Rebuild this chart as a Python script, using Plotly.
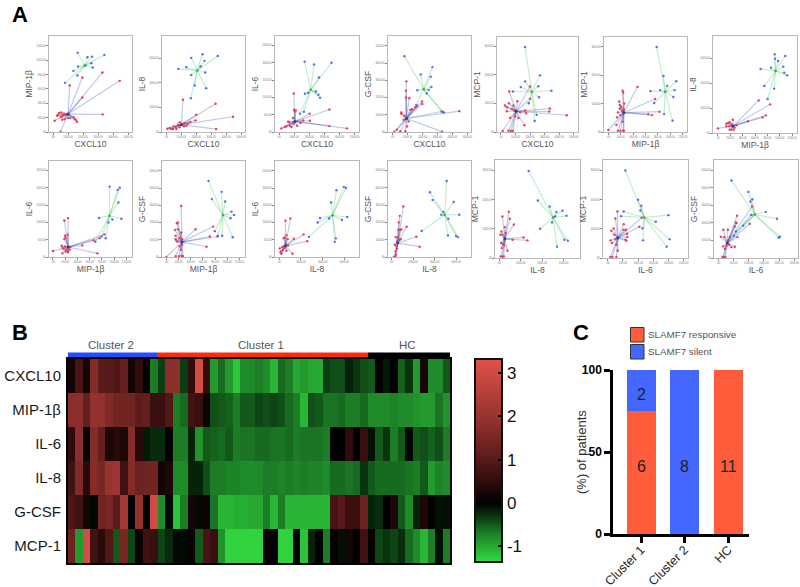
import plotly.graph_objects as go

W, H = 800, 587

# ---------- Panel A values (blue = SLAMF7 silent group points, red = others, C = group centre)
P01_BX = [1644,2289,2600,3422,2556,2156,2644,1667,1356,1622,800]
P01_BY = [1106,1042,1051,1074,958,926,898,912,852,787,685]
P01_BC = [2110,926]
P01_RX = [1956,3289,4444,1111,1956,3311,511,111,265,400,555,665,775,890,510,620,775,1000,1155,1375,1445,1600,1510,335,575]
P01_RY = [759,829,713,648,481,245,5,157,227,264,273,241,250,241,208,171,180,194,194,208,180,143,171,236,218]
P01_RC = [1000,250]

P02_BX = [800,1665,2420,3440,2555,2290,1330,2600,1665,1890,2665,1640]
P02_BY = [5130,6020,6320,6180,5780,5320,5265,4830,4640,3780,3560,2750]
P02_BC = [2065,4995]
P02_RX = [1110,3290,4460,3330,2000,1950,1600,70,222,444,622,777,888,1066,1221,1332,666,488,333,888,1177,1443]
P02_RY = [2620,2300,1240,240,1400,945,810,270,324,243,405,594,783,648,729,513,243,459,243,378,459,675]
P02_RC = [1000,594]

P03_BX = [1690,2310,3460,2640,1710,1930,2440,2600,2710,1640,1380]
P03_BY = [2035,1950,2000,1575,1105,1130,1170,1075,990,585,530]
P03_BC = [2090,1220]
P03_RX = [975,3330,4480,3330,2020,2040,1600,1420,155,1000,1045,930,600,710,820,380,1110,665,975,1200,490]
P03_RY = [1115,650,105,170,530,325,335,260,105,645,595,405,300,180,145,145,625,280,240,180,165]
P03_RC = [1045,305]

P04_BX = [800,2665,1890,2555,2600,2420,1665,2290,3310,3440,1600]
P04_BY = [4400,3765,3340,3205,2610,2440,2420,2230,1170,1130,1575]
P04_BC = [2085,2475]
P04_RX = [4460,3310,3285,930,910,910,1130,1975,2000,1640,1530,1310,1200,600,600,800,975,1090,310,130,530,865,975,755]
P04_RY = [1210,20,1190,2940,2400,2000,1960,1770,1630,1515,1440,1325,1285,1130,1055,940,770,615,135,20,40,40,325,710]
P04_RC = [930,785]

P05_BX = [1660,2680,1660,1360,2565,3470,2610,820,1905,2450,2315]
P05_BY = [2970,1980,1770,1570,1600,1440,1215,1415,1005,600,385]
P05_BC = [2110,1405]
P05_RX = [2000,2000,570,3360,3315,4520,1610,1135,860,270,410,545,635,975,1660,1725,1315,115,520,680,815,1200,750,910,410]
P05_RY = [1590,1160,1415,820,715,585,235,1075,925,925,725,1005,490,540,750,655,690,35,45,35,35,490,805,750,865]
P05_RC = [1045,725]

P06_BX = [780,890,1097,950,680,835,1070,740,1050,900,1037]
P06_BY = [2995,1975,1790,1625,1440,1475,1475,1020,1230,630,400]
P06_BC = [918,1415]
P06_RX = [470,230,240,755,175,255,825,645,705,0,185,155,195,140,230,130,155,195,240,250,185,210,250,215]
P06_RY = [1590,1450,1390,1160,1075,1005,715,630,595,70,830,690,595,515,365,245,45,45,45,45,950,890,795,750]
P06_RC = [250,680]

P07_BX = [920,1090,925,975,690,860,1057,1075,1120,750,910,805]
P07_BY = [6325,6190,5975,5790,5145,5250,5335,4850,4635,3780,3565,2735]
P07_BC = [932,4985]
P07_RX = [660,845,775,725,485,0,240,190,165,135,190,220,255,270,300,180,220,235,135]
P07_RY = [2625,2305,1420,1260,940,375,1070,860,805,535,270,270,270,430,615,535,700,535,750]
P07_RC = [245,565]

P08_BX = [925,1090,1057,1068,752,970,1117,905,796,692,861]
P08_BY = [2035,2000,1940,1575,1130,1085,1105,1000,595,440,540]
P08_BC = [921,1190]
P08_RX = [245,185,196,240,207,185,840,763,665,480,725,0,142,153,175,153,218,245,272,283,207,240,196]
P08_RY = [1125,1055,615,645,555,520,655,545,480,335,105,175,325,270,230,105,210,135,210,290,155,175,305]
P08_RC = [250,290]

P09_BX = [692,905,965,747,1068,1112,1052,796,916,845,1090]
P09_BY = [4415,3780,3225,3360,2630,2440,2245,1500,1230,1230,1150]
P09_BC = [926,2440]
P09_RX = [245,190,175,142,190,480,768,714,840,660,0,245,153,153,164,185,218,262,218,240,153,207,250,272,262]
P09_RY = [2955,2000,1960,1575,1610,1610,1765,1190,1190,595,0,1420,1230,1035,960,885,1095,710,615,420,40,40,75,40,1035]
P09_RC = [256,865]

P10_BX = [5945,6130,5265,4775,3760,3540,4590,6250,5760,5205,5115,2740]
P10_BY = [2035,2000,1940,1585,1130,1000,1115,1160,1075,540,440,585]
P10_BC = [4900,1210]
P10_RX = [1045,585,2250,2590,1355,680,525,430,800,1230,60,215,370,525,830,310,430,215,680,125,615]
P10_RY = [1115,1055,655,460,530,635,565,545,520,95,250,165,210,260,335,290,305,95,180,135,375]
P10_RC = [585,325]

P11_BX = [5110,3570,3820,5760,4805,4620,5265,6280,5235,5975,6160,2800]
P11_BY = [4395,3745,3300,3185,2610,2440,2210,2440,1250,1210,1150,1500]
P11_BC = [4930,2440]
P11_RX = [1110,770,680,1415,925,800,645,585,2310,2620,400,770,860,310,460,525,400,430,245,370,525]
P11_RY = [2920,2380,2000,1745,1595,1575,1575,1150,1170,595,1150,1000,1035,710,615,480,325,135,0,40,900]
P11_RC = [585,805]

P12_BX = [2750,3595,4690,5310,5875,6250,5190,4905,3810,6060,6375,5375]
P12_BY = [2985,1970,1765,1575,1620,1450,1425,1220,1005,625,595,390]
P12_BC = [5000,1390]
P12_RX = [905,310,1000,1375,530,220,125,2280,2625,1250,780,190,375,560,625,310,470,155,310,440,250]
P12_RY = [1585,1425,1345,1150,1060,910,800,705,605,625,250,515,480,685,855,800,435,55,45,55,340]
P12_RC = [530,660]

P13_BX = [580,1000,1105,1075,525,440,1995,1580,1140,2040,1160,1940]
P13_BY = [3000,1995,1790,1630,1595,1435,1470,1245,1015,640,605,390]
P13_BC = [1205,1390]
P13_RX = [320,250,1120,1040,525,600,525,195,120,635,645,580,615,90,140,250,285,330,90,155,285,220]
P13_RY = [1595,1355,1380,1070,1160,970,970,1015,935,830,720,625,590,605,515,650,455,250,35,35,35,800]
P13_RC = [330,685]

P14_BX = [435,990,1120,1055,1560,1090,1930,2025,1985,580,510,820]
P14_BY = [4405,3760,3345,3215,2625,2455,2230,1210,1155,1510,1265,1835]
P14_BC = [1200,2475]
P14_RX = [620,580,600,545,1035,1110,1080,165,315,85,195,630,380,165,270,545,435,220,140,185,230,325,360]
P14_RY = [2400,2020,1985,1795,1945,2930,2455,1605,1605,1210,1190,1190,1190,660,700,640,605,510,55,55,55,1000,755]
P14_RC = [295,850]

PANEL_X_NAMES = ["CXCL10","CXCL10","CXCL10","CXCL10","CXCL10","MIP-1β","MIP-1β",
                 "MIP-1β","MIP-1β","IL-8","IL-8","IL-8","IL-6","IL-6"]
PANEL_Y_NAMES = ["MIP-1β","IL-8","IL-6","G-CSF","MCP-1","MCP-1","IL-8",
                 "IL-6","G-CSF","IL-6","G-CSF","MCP-1","MCP-1","G-CSF"]
AXIS_TICKS = {"CXCL10":[0,1000,2000,3000,4000,5000], "MIP-1β":[0,200,400,600,800,1000,1200],
              "IL-8":[0,2000,4000,6000], "IL-6":[0,500,1000,1500,2000,2500],
              "G-CSF":[0,1000,2000,3000,4000,5000], "MCP-1":[0,1000,2000,3000]}
# Panel frame: left, right, top, bottom in pixels; axis limits
PANEL_BOX = [(49,132,36,132),(162,245,36,132),(275,359,36,132),(388,471,36,132),(497,578,37,132),(604,687,37,132),(713,797,36,133),
             (49,132,161,257),(162,245,161,257),(275,359,161,257),(388,471,161,257),(495,580,160,258),(603,688,160,258),(714,798,160,258)]
PANEL_XR = [(-266,5260),(-290,5260),(-266,5280),(-290,5240),(-270,5290),(-70,1270),(-80,1280),
            (-65,1290),(-70,1290),(-370,7330),(-310,7360),(-375,7500),(-155,2640),(-140,2620)]
PANEL_YMAX = [1338,7800,2775,5570,3320,3345,7800,2775,5570,2785,5550,3360,3360,5575]

# ---------- Panel B values
HEAT_ROWS = ["CXCL10","MIP-1β","IL-6","IL-8","G-CSF","MCP-1"]
H_CXCL10 = [.2,.8,.2,1.7,1.0,1.0,.9,1.2,.2,.5,0,-.7,-.35,1.8,1.8,-.35,.5,3.0,.5,-.9,-.6,-.9,-1.2,-.8,-.8,-.7,-.8,-1.1,-.6,-.7,-1.0,-.9,-1.0,-1.0,-.35,-.45,-.45,-.2,-.3,-.45,-.5,.05,-.15,0,-.55,-.3,-.9,.25,-.8,-.8,-.5]
H_MIP = [1.8,1.8,1.2,1.9,1.9,1.6,1.4,1.4,1.4,1.1,1.2,.6,.6,.9,-.7,-.6,.7,.6,.15,-.45,-.5,-.55,-.7,-.5,-.5,-.4,-.45,-.4,-.45,-.6,-.7,-1.1,-.45,-.5,-.65,-.65,-.6,-.7,-.7,-.6,-.8,-.8,-.8,-.75,-.8,-.8,-.85,-.9,-.9,-.65,-.85]
H_IL6 = [.5,1.8,-.05,1.7,1.2,.3,.4,.3,1.7,.4,-.15,-.25,-.25,0,-.7,-.7,-.2,-.85,-.5,-.55,-.6,-.5,-.7,-.65,-.65,-.6,-.6,-.65,-.65,-.6,-.7,-.65,-.65,-.65,-.7,0,0,.5,0,.6,-.1,-.5,-.3,-.7,-.5,-.05,-.5,-.45,-.55,-.45,-.7]
H_IL8 = [.7,1.6,.4,1.7,1.5,2.0,2.1,.7,1.7,1.3,1.4,1.4,.2,.3,-.8,-.8,-.2,-.2,-.45,-.7,-.7,-.75,-.75,-.8,-.8,-.8,-.7,-.7,-.75,-.7,-.75,-.7,-.75,-.75,-.8,-.6,-.6,-.65,-.6,-.3,-.5,-.6,-.6,-.6,-.6,-.65,-.7,-.5,-.9,-.75,-.8]
H_GCSF = [.9,.7,.2,-.05,1.4,1.5,1.0,2.2,0,1.9,0,3.0,-.8,-.05,-1.2,-.7,.2,-.05,.15,-.65,-1.1,-1.1,-1.05,-1.05,-1.0,-1.0,-.7,-1.1,-.7,-1.1,-1.1,-1.1,-1.1,-1.1,-1.1,.8,1.0,.6,.6,1.3,-.2,-.25,0,.3,-.5,-.8,-.2,.3,.05,-.1,-.1]
H_MCP = [1.3,-.9,3.1,.7,.4,.9,-.5,1.5,-.4,.1,.7,.6,-.4,-.25,-.05,-.05,.1,-.5,.8,.6,-.85,-1.3,-1.3,-1.3,-1.3,-1.3,.1,.05,-1.3,-1.3,0,-1.2,-.2,0,-.7,.05,-.1,.2,0,.7,.05,-.4,-.3,-.4,-.25,-.6,-.8,-1.1,-.7,-.1,-.7]
CLUSTER_NAMES = ["Cluster 2","Cluster 1","HC"]
CLUSTER_SIZES = [12,28,11]
CLUSTER_COLORS = ["#1f4dff","#ff2a0a","#000000"]
COLOR_MIN, COLOR_MAX = -1.37, 3.33
CBAR_TICKS = [-1,0,1,2,3]
CBAR_LABELS = ["-1","0","1","2","3"]

# ---------- Panel C values
BAR_CATS = ["Cluster 1","Cluster 2","HC"]
RESPONSIVE = [75,0,100]
SILENT = [25,100,0]
COUNT_LABELS = ["6","8","11","2"]
COUNT_CATS = ["Cluster 1","Cluster 2","HC","Cluster 1"]
COUNT_Y = [41,41,41,85]
RESP_COLOR, SILENT_COLOR = "#ff5c3c", "#4467ff"

def fx(px): return px / W
def fy(px): return 1 - px / H

fig = go.Figure()
layout = dict(width=W, height=H, margin=dict(l=0,r=0,t=0,b=0,autoexpand=False), paper_bgcolor="white", plot_bgcolor="white",
              showlegend=False, font=dict(family="Liberation Sans, Arial, sans-serif"),
              bargap=1/3, barmode="stack")
shapes, annots = [], []

def tick_text(v):
    return ".00" if v == 0 else f"{v}.00"

def star(xs, ys, c):
    ox, oy = [], []
    for x, y in zip(xs, ys):
        ox += [c[0], x, None]; oy += [c[1], y, None]
    return ox, oy

for i in range(14):
    n = i + 1
    g = globals()
    bx, by, bc = g[f"P{n:02d}_BX"], g[f"P{n:02d}_BY"], g[f"P{n:02d}_BC"]
    rx, ry, rc = g[f"P{n:02d}_RX"], g[f"P{n:02d}_RY"], g[f"P{n:02d}_RC"]
    xa, ya = f"x{n}", f"y{n}"
    lx, ly = star(rx, ry, rc)
    fig.add_trace(go.Scatter(x=lx, y=ly, mode="lines", line=dict(color="rgba(70,90,180,0.33)", width=1.2), xaxis=xa, yaxis=ya, hoverinfo="skip"))
    lx, ly = star(bx, by, bc)
    fig.add_trace(go.Scatter(x=lx, y=ly, mode="lines", line=dict(color="rgba(90,205,115,0.38)", width=1.1), xaxis=xa, yaxis=ya, hoverinfo="skip"))
    fig.add_trace(go.Scatter(x=rx, y=ry, mode="markers", marker=dict(color="#e4405a", size=2.4), xaxis=xa, yaxis=ya))
    fig.add_trace(go.Scatter(x=bx, y=by, mode="markers", marker=dict(color="#5070f0", size=2.4), xaxis=xa, yaxis=ya))
    fig.add_trace(go.Scatter(x=[rc[0]], y=[rc[1]], mode="markers", marker=dict(color="#2a3f9a", size=3), xaxis=xa, yaxis=ya))
    fig.add_trace(go.Scatter(x=[bc[0]], y=[bc[1]], mode="markers", marker=dict(color="#30b050", size=2.5), xaxis=xa, yaxis=ya))
    l, r, t, b = PANEL_BOX[i]
    xt, yt = AXIS_TICKS[PANEL_X_NAMES[i]], AXIS_TICKS[PANEL_Y_NAMES[i]]
    common = dict(automargin=False, showgrid=False, zeroline=False, showline=True, mirror=True, linecolor="#b8b8b8", linewidth=1.4,
                  ticks="outside", ticklen=1.5, tickwidth=0.5, tickcolor="#888",
                  tickfont=dict(size=2.6, color="#777"), tickmode="array")
    layout[f"xaxis{n}"] = dict(common, domain=[fx(l), fx(r)], range=list(PANEL_XR[i]), anchor=ya,
                               tickvals=xt, ticktext=[tick_text(v) for v in xt],
                               title=dict(text=PANEL_X_NAMES[i], font=dict(size=8.5, color="#555"), standoff=3))
    layout[f"yaxis{n}"] = dict(common, domain=[fy(b), fy(t)], range=[0, PANEL_YMAX[i]], anchor=xa,
                               tickvals=yt, ticktext=[tick_text(v) for v in yt],
                               title=dict(text=PANEL_Y_NAMES[i], font=dict(size=8.5, color="#555"), standoff=2))

# ---------- Heat map
scale_stops = [(-1.37,"rgb(50,220,65)"),(-0.7,"rgb(28,125,38)"),(-0.3,"rgb(8,52,14)"),(0,"rgb(0,0,0)"),
               (0.5,"rgb(50,12,12)"),(1,"rgb(88,26,26)"),(2,"rgb(152,52,48)"),(3.33,"rgb(225,82,74)")]
colorscale = [[(v-COLOR_MIN)/(COLOR_MAX-COLOR_MIN), c] for v, c in scale_stops]
H_L, H_R, H_T, H_B = 68, 450, 359, 563
heat_z = [H_CXCL10, H_MIP, H_IL6, H_IL8, H_GCSF, H_MCP]
assert all(len(r) == sum(CLUSTER_SIZES) for r in heat_z), [len(r) for r in heat_z]
CB_T, CB_B = 359, 562
fig.add_trace(go.Heatmap(z=heat_z, y=HEAT_ROWS, x=list(range(sum(CLUSTER_SIZES))), xaxis="x15", yaxis="y15",
                         colorscale=colorscale, zmin=COLOR_MIN, zmax=COLOR_MAX,
                         colorbar=dict(x=fx(475), xanchor="left", xpad=0, ypad=0, thickness=27, thicknessmode="pixels",
                                       y=fy(CB_B), yanchor="bottom", len=(CB_B-CB_T)/H, lenmode="fraction",
                                       outlinewidth=2, outlinecolor="#111", tickmode="array", tickvals=CBAR_TICKS, ticktext=CBAR_LABELS,
                                       ticks="inside", ticklen=5, tickwidth=2, tickcolor="#000",
                                       tickfont=dict(size=17, color="#111"))))
layout["xaxis15"] = dict(automargin=False, domain=[fx(H_L), fx(H_R)], anchor="y15", range=[-0.5, sum(CLUSTER_SIZES)-0.5], showticklabels=False,
                         ticks="", showgrid=False, zeroline=False, showline=True, mirror=True, linecolor="#000", linewidth=2)
layout["yaxis15"] = dict(automargin=False, domain=[fy(H_B), fy(H_T)], anchor="x15", autorange="reversed", showgrid=False, zeroline=False,
                         ticks="", ticklabelstandoff=2, showline=True, mirror=True, linecolor="#000", linewidth=2,
                         tickfont=dict(size=15, color="#1a1a1a"))
start = -0.5
for name, size, col in zip(CLUSTER_NAMES, CLUSTER_SIZES, CLUSTER_COLORS):
    shapes.append(dict(type="rect", xref="x15", yref="paper", x0=start, x1=start+size, y0=fy(357), y1=fy(352.5), fillcolor=col, line_width=0))
    annots.append(dict(xref="x15", yref="paper", x=start+size/2-0.2, y=fy(345), text=name, showarrow=False, yanchor="middle",
                       font=dict(size=11.5, color="#555")))
    start += size
for v in CBAR_TICKS:
    py = CB_T + (COLOR_MAX - v) / (COLOR_MAX - COLOR_MIN) * (CB_B - CB_T)
    shapes.append(dict(type="line", xref="paper", yref="paper", x0=fx(475), x1=fx(480), y0=fy(py), y1=fy(py), line=dict(color="#000", width=2)))

# ---------- Stacked bars
fig.add_trace(go.Bar(x=BAR_CATS, y=RESPONSIVE, marker=dict(color=RESP_COLOR, line_width=0), name="SLAMF7 responsive", xaxis="x16", yaxis="y16"))
fig.add_trace(go.Bar(x=BAR_CATS, y=SILENT, marker=dict(color=SILENT_COLOR, line_width=0), name="SLAMF7 silent", xaxis="x16", yaxis="y16"))
layout["xaxis16"] = dict(automargin=False, domain=[fx(613), fx(749)], anchor="y16", range=[-0.644, 2.48], showgrid=False, zeroline=False, showline=True,
                         linecolor="#000", linewidth=2.5, ticks="outside", ticklen=6, tickwidth=2.5, tickcolor="#000",
                         tickangle=-45, ticklabelstandoff=-5, tickfont=dict(size=12.5, color="#222"), categoryorder="array", categoryarray=BAR_CATS)
layout["yaxis16"] = dict(automargin=False, domain=[fy(534), fy(370)], anchor="x16", range=[0,100], tickvals=[0,50,100], showgrid=False, zeroline=False,
                         showline=True, linecolor="#000", linewidth=2.5, ticks="outside", ticklen=6, tickwidth=2.5, tickcolor="#000",
                         tickfont=dict(size=12, color="#000", weight="bold"))
annots.append(dict(xref="paper", yref="paper", x=fx(581), y=fy(452), text="(%) of patients", showarrow=False, textangle=-90,
                   xanchor="center", yanchor="middle", font=dict(size=13, color="#333")))
for lab, cat, yv in zip(COUNT_LABELS, COUNT_CATS, COUNT_Y):
    annots.append(dict(xref="x16", yref="y16", x=cat, y=yv, text=lab, showarrow=False, font=dict(size=16, color="#222")))
for top, bot, col, txt in [(327.5,342,RESP_COLOR,"SLAMF7 responsive"),(344.5,359,SILENT_COLOR,"SLAMF7 silent")]:
    shapes.append(dict(type="rect", xref="paper", yref="paper", x0=fx(630.5), x1=fx(644), y0=fy(bot), y1=fy(top), fillcolor=col, line=dict(color="#333", width=1)))
    annots.append(dict(xref="paper", yref="paper", x=fx(645.5), y=fy((top+bot)/2), text=txt, showarrow=False, xanchor="left",
                       font=dict(size=9.8, color="#555")))

# ---------- Panel letters
for txt, px, py in [("A",12,14),("B",12,332),("C",573,332)]:
    annots.append(dict(xref="paper", yref="paper", x=fx(px), y=fy(py), text=f"<b>{txt}</b>", showarrow=False, xanchor="left", yanchor="middle",
                       xshift=-2, font=dict(size=22, color="#000")))

layout["shapes"] = shapes
layout["annotations"] = annots
fig.update_layout(**layout)
fig.write_html("out.html", config=dict(displayModeBar=False), post_script="document.body.style.margin='0';")
